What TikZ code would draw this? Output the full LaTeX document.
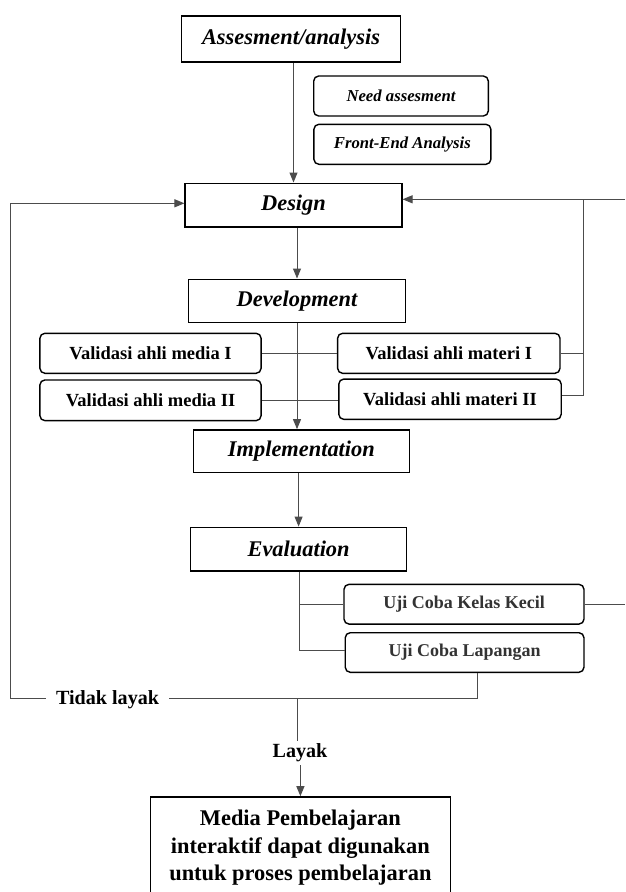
\documentclass[tikz,border=0pt]{standalone}
\usepackage{fontspec}
\setmainfont{Liberation Serif}
\usetikzlibrary{arrows.meta,calc}
\begin{document}
\begin{tikzpicture}[x=1pt,y=-1pt,
  mainbox/.style={draw=black,line width=1.6pt,inner sep=0pt,font=\fontsize{22.4}{26}\selectfont\bfseries\itshape},
  subbox/.style={draw=black,line width=1.4pt,rounded corners=5pt,inner sep=0pt,minimum height=40pt},
  fnsmall/.style={font=\fontsize{16.7}{20}\selectfont\bfseries\itshape},
  fnval/.style={font=\fontsize{18.5}{22}\selectfont\bfseries},
  fnuji/.style={font=\fontsize{18}{22}\selectfont\bfseries, text=black!80},
  lbl/.style={inner sep=3pt,font=\fontsize{20.1}{24}\selectfont\bfseries},
  conn/.style={draw=black!70,line width=1pt},
  arr/.style={conn,-{Triangle[length=10pt,width=8pt]}}]
\useasboundingbox (0,0) rectangle (625,892);
\fill[white] (0,0) rectangle (625,892);
% main boxes
\node[mainbox,minimum width=219pt,minimum height=46pt] (assess) at (291,39.2) {Assesment/analysis};
\node[mainbox,minimum width=216.5pt,minimum height=43.4pt] (design) at (293.5,205) {Design};
\node[mainbox,minimum width=217pt,minimum height=43pt] (dev) at (297,300.8) {Development};
\node[mainbox,minimum width=216pt,minimum height=42.7pt] (impl) at (301.4,451.3) {Implementation};
\node[mainbox,minimum width=216pt,minimum height=43.7pt] (eval) at (298.6,549.2) {Evaluation};
% analysis sub boxes
\node[subbox,fnsmall,minimum width=174.6pt] (need) at (401,96) {Need assesment};
\node[subbox,fnsmall,minimum width=177pt] (front) at (402.4,144.3) {Front-End Analysis};
% validation boxes
\node[subbox,fnval,minimum width=221.2pt] (media1) at (150.5,353.3) {Validasi ahli media I};
\node[subbox,fnval,minimum width=221.2pt,minimum height=40.7pt] (media2) at (150.5,400.3) {Validasi ahli media II};
\node[subbox,fnval,minimum width=222.4pt] (materi1) at (448.8,353.3) {Validasi ahli materi I};
\node[subbox,fnval,minimum width=222.4pt,minimum height=40.3pt] (materi2) at (450,399.2) {Validasi ahli materi II};
% trial boxes
\node[subbox,fnuji,minimum width=240pt,minimum height=39.7pt] (uji1) at (464,604.2) {Uji Coba Kelas Kecil};
\node[subbox,fnuji,minimum width=238.7pt,minimum height=39.6pt] (uji2) at (464.6,652.5) {Uji Coba Lapangan};
% labels
\node[lbl,inner xsep=10pt] (tidak) at (107.6,699.5) {Tidak layak};
\node[lbl] (layak) at (300,753) {Layak};
% final box
\node[draw=black,line width=1.6pt,inner sep=0pt,minimum width=300pt,minimum height=102pt,align=center,
  font=\fontsize{22.4}{27.5}\selectfont\bfseries] (final) at (300.4,848) {Media Pembelajaran\\interaktif dapat digunakan\\untuk proses pembelajaran};
% coordinates
\coordinate (rtop) at (625,199.3);
\coordinate (rj) at (583.9,199.3);
\coordinate (m2r) at (583.9,395);
\coordinate (lt) at (10.8,203.3);
\coordinate (lb) at (10.8,698.3);
\coordinate (ub) at (477.1,698.3);
\coordinate (lj) at (297,698.3);
\coordinate (eb) at (299,650);
\coordinate (ur) at (625,604.2);
% main flow
\draw[arr] (design.north |- assess.south) -- (design.north);
\draw[arr] (dev.north |- design.south) -- (dev.north);
\draw[arr] (dev.south) -- (dev.south |- impl.north);
\draw[arr] (eval.north |- impl.south) -- (eval.north);
% validation links
\draw[conn] (media1.east) -- (materi1.west);
\draw[conn] (media2.east) -- (media2.east -| materi2.west);
\draw[conn] (materi1.east) -- (materi1.east -| rj);
\draw[conn] (m2r -| materi2.east) -- (m2r) -- (rj);
\draw[arr] (rtop) -- (rtop -| design.east);
% evaluation branches
\draw[conn] (eval.south -| eb) -- (eb) -- (eb -| uji2.west);
\draw[conn] (eb |- uji1.west) -- (uji1.west);
\draw[conn] (uji1.east) -- (ur);
% decision
\draw[conn] (uji2.south -| ub) -- (ub) -- (tidak.east |- ub);
\draw[arr] (tidak.west |- lb) -- (lb) -- (lt) -- (lt -| design.west);
\draw[conn] (lj) -- (lj |- layak.north);
\draw[arr] (final.north |- layak.south) -- (final.north);
\end{tikzpicture}
\end{document}
